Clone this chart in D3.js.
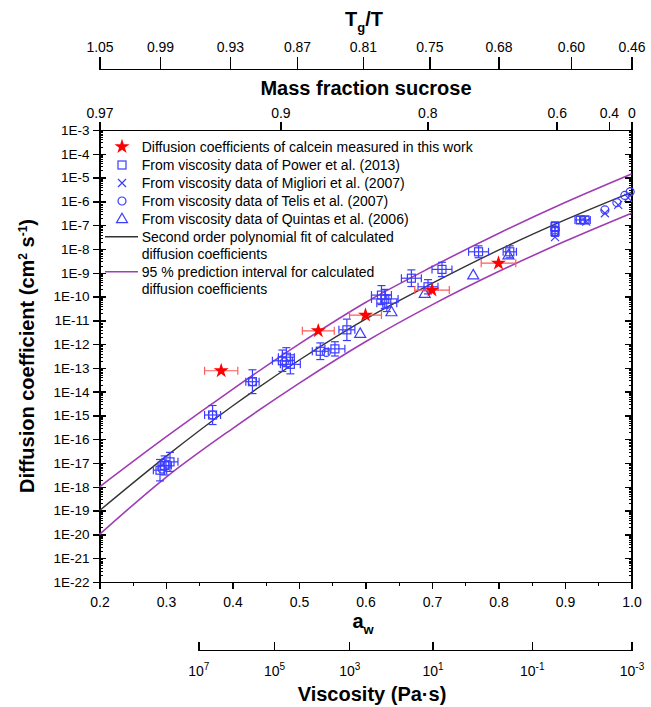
<!DOCTYPE html>
<html>
<head>
<meta charset="utf-8">
<script src="https://cdn.jsdelivr.net/npm/d3@7"></script>
<style>
body { margin: 0; background: #fff; }
text { font-family: "Liberation Sans", Arial, sans-serif; fill: #000; }
.axis path, .axis line { stroke: #000; stroke-width: 1.4; shape-rendering: crispEdges; }
</style>
</head>
<body>
<script>
// ---- data (D values as log10, cm2/s) ----
// fit curve and 95 % prediction interval
var curveAw   = [0.2, 0.3, 0.4, 0.5, 0.6, 0.7, 0.8, 0.9, 1.0];
var fitLogD   = [-19.0, -16.72, -14.6, -12.68, -10.95, -9.45, -8.05, -6.78, -5.62];
var upperLogD = [-18.0, -15.9, -13.9, -12.0, -10.25, -8.75, -7.35, -6.05, -4.85];
var lowerLogD = [-20.0, -17.6, -15.55, -13.65, -11.9, -10.35, -8.95, -7.68, -6.5];

// calcein, measured in this work
var starAw   = [0.383, 0.529, 0.600, 0.700, 0.800];
var starLogD = [-13.12, -11.44, -10.78, -9.73, -8.60];
var starXErr = [0.025, 0.024, 0.024, 0.026, 0.026];

// Power et al. (2013)
var powerAw   = [0.291, 0.298, 0.306, 0.370, 0.430, 0.475, 0.481, 0.487, 0.532, 0.554, 0.572, 0.624, 0.629, 0.632, 0.669, 0.694, 0.715, 0.770, 0.817, 0.885, 0.885, 0.923, 0.930];
var powerLogD = [-17.3, -17.1, -16.95, -14.98, -13.58, -12.7, -12.55, -12.85, -12.3, -12.2, -11.4, -9.94, -10.1, -10.28, -9.23, -9.59, -8.86, -8.12, -8.12, -7.06, -7.27, -6.78, -6.78];
var powerXErr = [0.01, 0.01, 0.012, 0.012, 0.01, 0.015, 0.012, 0.015, 0.012, 0.015, 0.012, 0.015, 0.02, 0.015, 0.015, 0.015, 0.015, 0.015, 0.01, 0.005, 0.005, 0.008, 0.008];
var powerYErr = [0.45, 0.4, 0.4, 0.4, 0.5, 0.45, 0.4, 0.4, 0.35, 0.3, 0.45, 0.4, 0.4, 0.35, 0.35, 0.3, 0.3, 0.25, 0.25, 0.2, 0.2, 0.15, 0.15];

// Migliori et al. (2007)
var miglioriAw   = [0.885, 0.932, 0.960, 0.980, 0.995];
var miglioriLogD = [-7.5, -6.85, -6.5, -6.15, -5.85];

// Telis et al. (2007)
var telisAw   = [0.294, 0.302, 0.370, 0.430, 0.478, 0.541, 0.885, 0.960, 0.978, 0.990, 0.998];
var telisLogD = [-17.25, -17.05, -14.98, -13.58, -12.75, -12.35, -7.2, -6.36, -6.05, -5.75, -5.6];

// Quintas et al. (2006)
var quintasAw   = [0.592, 0.639, 0.689, 0.762, 0.815];
var quintasLogD = [-11.55, -10.64, -9.87, -9.09, -8.25];

// axes
var awTicks  = [0.2, 0.3, 0.4, 0.5, 0.6, 0.7, 0.8, 0.9, 1.0];
var awLabels = ["0.2", "0.3", "0.4", "0.5", "0.6", "0.7", "0.8", "0.9", "1.0"];
var awMinor  = [0.25, 0.35, 0.45, 0.55, 0.65, 0.75, 0.85, 0.95];
var yExp = [-3, -4, -5, -6, -7, -8, -9, -10, -11, -12, -13, -14, -15, -16, -17, -18, -19, -20, -21, -22];
var massLabels = ["0.97", "0.9", "0.8", "0.6", "0.4", "0"];
var massAw     = [0.2, 0.472, 0.693, 0.8875, 0.966, 1.0];
var tgLabels = ["1.05", "0.99", "0.93", "0.87", "0.81", "0.75", "0.68", "0.60", "0.46"];
var tgAw     = [0.2, 0.291, 0.396, 0.497, 0.596, 0.696, 0.8, 0.909, 1.0];
var viscExp = ["7", "5", "3", "1", "-1", "-3"];
var viscAw  = [0.3486, 0.4624, 0.5756, 0.7009, 0.85, 1.0];

var width = 651;
var height = 707;

var plot = { left: 99.5, right: 631.5, top: 130, bottom: 582 };

var blue = "#3c3cff";
var red = "#ff0000";
var purple = "#a03cb4";

var svg = d3.select("body")
    .append("svg")
    .attr("width", width)
    .attr("height", height);

var x = d3.scaleLinear().domain([0.2, 1.0]).range([plot.left, plot.right]);
var y = d3.scaleLog().domain([1e-22, 1e-3]).range([plot.bottom, plot.top]);

function yl(v) { return y(Math.pow(10, v)); }

// major and minor log ticks
var yMajor = yExp.map(function(e) { return Math.pow(10, e); });
var yMinor = [];
yExp.forEach(function(e) {
    if (e === -3) return;
    for (var k = 2; k < 10; k++) yMinor.push(k * Math.pow(10, e));
});

// ---- bottom a_w axis ----
svg.append("g")
    .attr("class", "axis")
    .attr("transform", "translate(0," + plot.bottom + ")")
    .call(d3.axisBottom(x).tickValues(awTicks).tickSize(7).tickPadding(8)
        .tickFormat(function(d, i) { return awLabels[i]; }))
    .call(function(g) { g.selectAll("text").style("font-size", "14px"); });
svg.append("g")
    .attr("class", "axis")
    .attr("transform", "translate(0," + plot.bottom + ")")
    .call(d3.axisBottom(x).tickValues(awMinor).tickSize(4).tickFormat(""))
    .call(function(g) { g.select(".domain").remove(); });

// ---- left y axis ----
svg.append("g")
    .attr("class", "axis")
    .attr("transform", "translate(" + plot.left + ",0)")
    .call(d3.axisLeft(y).tickValues(yMajor).tickSize(7).tickPadding(3)
        .tickFormat(function(d) { return "1E" + Math.round(Math.log10(d)); }))
    .call(function(g) { g.selectAll("text").style("font-size", "13.5px"); });
svg.append("g")
    .attr("class", "axis")
    .attr("transform", "translate(" + plot.left + ",0)")
    .call(d3.axisRight(y).tickValues(yMajor).tickSize(6).tickFormat(""))
    .call(function(g) { g.select(".domain").remove(); });
svg.append("g")
    .attr("class", "axis")
    .attr("transform", "translate(" + plot.left + ",0)")
    .call(d3.axisRight(y).tickValues(yMinor).tickSize(3).tickFormat(""))
    .call(function(g) { g.select(".domain").remove(); g.selectAll("line").style("stroke-width", 1); });

// ---- right y axis (inward ticks only) ----
svg.append("g")
    .attr("class", "axis")
    .attr("transform", "translate(" + plot.right + ",0)")
    .call(d3.axisLeft(y).tickValues(yMajor).tickSize(7).tickFormat(""));
svg.append("g")
    .attr("class", "axis")
    .attr("transform", "translate(" + plot.right + ",0)")
    .call(d3.axisLeft(y).tickValues(yMinor).tickSize(3).tickFormat(""))
    .call(function(g) { g.select(".domain").remove(); g.selectAll("line").style("stroke-width", 1); });

// ---- top: mass fraction sucrose ----
svg.append("g")
    .attr("class", "axis")
    .attr("transform", "translate(0," + plot.top + ")")
    .call(d3.axisTop(x).tickValues(massAw).tickSize(8).tickPadding(4)
        .tickFormat(function(d, i) { return massLabels[i]; }))
    .call(function(g) { g.selectAll("text").style("font-size", "14px"); });

svg.append("text")
    .attr("x", 366).attr("y", 95)
    .attr("text-anchor", "middle")
    .style("font-size", "20px").style("font-weight", "bold")
    .text("Mass fraction sucrose");

// ---- top: Tg/T ----
var tgY = 69;
svg.append("g")
    .attr("class", "axis")
    .attr("transform", "translate(0," + tgY + ")")
    .call(d3.axisTop(x).tickValues(tgAw).tickSize(12).tickPadding(5)
        .tickFormat(function(d, i) { return tgLabels[i]; }))
    .call(function(g) { g.selectAll("text").style("font-size", "14px"); });

var tgTitle = svg.append("text")
    .attr("x", 364).attr("y", 26)
    .attr("text-anchor", "middle")
    .style("font-size", "20px").style("font-weight", "bold");
tgTitle.append("tspan").text("T");
tgTitle.append("tspan").attr("dy", 6).style("font-size", "13px").text("g");
tgTitle.append("tspan").attr("dy", -6).text("/T");

// ---- bottom: viscosity ----
var xv = d3.scaleLinear().domain([viscAw[0], 1.0]).range([x(viscAw[0]), x(1.0)]);
var viscAxis = svg.append("g")
    .attr("class", "axis")
    .attr("transform", "translate(0,650)")
    .call(d3.axisBottom(xv).tickValues(viscAw).tickSizeInner(-8).tickSizeOuter(-8)
        .tickFormat(""));
viscAxis.selectAll(".tick").append("text")
    .attr("y", 26)
    .attr("text-anchor", "middle")
    .style("font-size", "14px")
    .each(function(d, i) {
        var t = d3.select(this);
        t.append("tspan").text("10");
        t.append("tspan").attr("dy", -6).style("font-size", "10px").text(viscExp[i]);
    });

svg.append("text")
    .attr("x", 372).attr("y", 701)
    .attr("text-anchor", "middle")
    .style("font-size", "20px").style("font-weight", "bold")
    .text("Viscosity (Pa\u00b7s)");

var awTitle = svg.append("text")
    .attr("x", 363).attr("y", 628)
    .attr("text-anchor", "middle")
    .style("font-size", "20px").style("font-weight", "bold");
awTitle.append("tspan").text("a");
awTitle.append("tspan").attr("dy", 6).style("font-size", "13px").text("w");

// ---- y title ----
var yTitle = svg.append("text")
    .attr("transform", "translate(34,356) rotate(-90)")
    .attr("text-anchor", "middle")
    .style("font-size", "20px").style("font-weight", "bold");
yTitle.append("tspan").text("Diffusion coefficient (cm");
yTitle.append("tspan").attr("dy", -7).style("font-size", "12px").text("2");
yTitle.append("tspan").attr("dy", 7).text(" s");
yTitle.append("tspan").attr("dy", -7).style("font-size", "12px").text("-1");
yTitle.append("tspan").attr("dy", 7).text(")");

// ---- curves ----
var plotArea = svg.append("g");

function curveLine(vals) {
    return d3.line()
        .x(function(d, i) { return x(curveAw[i]); })
        .y(function(d) { return yl(d); })
        .curve(d3.curveMonotoneX)(vals);
}

plotArea.append("path").attr("d", curveLine(upperLogD))
    .attr("fill", "none").attr("stroke", purple).attr("stroke-width", 1.6);
plotArea.append("path").attr("d", curveLine(lowerLogD))
    .attr("fill", "none").attr("stroke", purple).attr("stroke-width", 1.6);
plotArea.append("path").attr("d", curveLine(fitLogD))
    .attr("fill", "none").attr("stroke", "#333").attr("stroke-width", 1.4);

// ---- error bars ----
function hErr(g, cx, cy, x0, x1, color) {
    g.append("line").attr("x1", x0).attr("x2", x1).attr("y1", cy).attr("y2", cy)
        .attr("stroke", color).attr("stroke-width", 1.2);
    g.append("line").attr("x1", x0).attr("x2", x0).attr("y1", cy - 4).attr("y2", cy + 4)
        .attr("stroke", color).attr("stroke-width", 1.2);
    g.append("line").attr("x1", x1).attr("x2", x1).attr("y1", cy - 4).attr("y2", cy + 4)
        .attr("stroke", color).attr("stroke-width", 1.2);
}
function vErr(g, cx, y0, y1, color) {
    g.append("line").attr("x1", cx).attr("x2", cx).attr("y1", y0).attr("y2", y1)
        .attr("stroke", color).attr("stroke-width", 1.2);
    g.append("line").attr("x1", cx - 4).attr("x2", cx + 4).attr("y1", y0).attr("y2", y0)
        .attr("stroke", color).attr("stroke-width", 1.2);
    g.append("line").attr("x1", cx - 4).attr("x2", cx + 4).attr("y1", y1).attr("y2", y1)
        .attr("stroke", color).attr("stroke-width", 1.2);
}

var errG = plotArea.append("g");
powerAw.forEach(function(a, i) {
    var cx = x(a), cy = yl(powerLogD[i]);
    hErr(errG, cx, cy, x(a - powerXErr[i]), x(a + powerXErr[i]), blue);
    vErr(errG, cx, yl(powerLogD[i] + powerYErr[i]), yl(powerLogD[i] - powerYErr[i]), blue);
});

// ---- markers ----
plotArea.selectAll(".power")
    .data(powerAw)
    .enter().append("rect")
    .attr("class", "power")
    .attr("x", function(d) { return x(d) - 4; })
    .attr("y", function(d, i) { return yl(powerLogD[i]) - 4; })
    .attr("width", 8).attr("height", 8)
    .attr("fill", "none").attr("stroke", blue).attr("stroke-width", 1.2);

plotArea.selectAll(".telis")
    .data(telisAw)
    .enter().append("circle")
    .attr("class", "telis")
    .attr("cx", function(d) { return x(d); })
    .attr("cy", function(d, i) { return yl(telisLogD[i]); })
    .attr("r", 4)
    .attr("fill", "none").attr("stroke", blue).attr("stroke-width", 1.2);

var crossPath = "M-4,-4L4,4M-4,4L4,-4";
plotArea.selectAll(".migliori")
    .data(miglioriAw)
    .enter().append("path")
    .attr("class", "migliori")
    .attr("d", crossPath)
    .attr("transform", function(d, i) { return "translate(" + x(d) + "," + yl(miglioriLogD[i]) + ")"; })
    .attr("fill", "none").attr("stroke", blue).attr("stroke-width", 1.2);

var triPath = "M0,-5.5L5.5,4L-5.5,4Z";
plotArea.selectAll(".quintas")
    .data(quintasAw)
    .enter().append("path")
    .attr("class", "quintas")
    .attr("d", triPath)
    .attr("transform", function(d, i) { return "translate(" + x(d) + "," + yl(quintasLogD[i]) + ")"; })
    .attr("fill", "none").attr("stroke", blue).attr("stroke-width", 1.2);

// calcein stars with horizontal error bars
var starG = plotArea.append("g");
starAw.forEach(function(a, i) {
    hErr(starG, x(a), yl(starLogD[i]), x(a - starXErr[i]), x(a + starXErr[i]), "#ff5a5a");
});
var star = d3.symbol().type(d3.symbolStar).size(70);
starG.selectAll(".star")
    .data(starAw)
    .enter().append("path")
    .attr("class", "star")
    .attr("d", star)
    .attr("transform", function(d, i) { return "translate(" + x(d) + "," + yl(starLogD[i]) + ")"; })
    .attr("fill", red);

// ---- legend ----
var legend = svg.append("g").style("font-size", "14px");
var legRows = [
    { type: "star", y: 146.7, text: ["Diffusion coefficients of calcein measured in this work"] },
    { type: "square", y: 165, text: ["From viscosity data of Power et al. (2013)"] },
    { type: "cross", y: 183, text: ["From viscosity data of Migliori et al. (2007)"] },
    { type: "circle", y: 201, text: ["From viscosity data of Telis et al. (2007)"] },
    { type: "triangle", y: 218.7, text: ["From viscosity data of Quintas et al. (2006)"] },
    { type: "fit", y: 236.7, text: ["Second order polynomial fit of calculated", "diffusion coefficients"] },
    { type: "band", y: 271.7, text: ["95 % prediction interval for calculated", "diffusion coefficients"] }
];
legRows.forEach(function(r) {
    var g = legend.append("g").attr("transform", "translate(122," + r.y + ")");
    if (r.type === "star") g.append("path").attr("d", star).attr("fill", red);
    if (r.type === "square") g.append("rect").attr("x", -4).attr("y", -4).attr("width", 8).attr("height", 8)
        .attr("fill", "none").attr("stroke", blue).attr("stroke-width", 1.2);
    if (r.type === "cross") g.append("path").attr("d", crossPath).attr("fill", "none").attr("stroke", blue).attr("stroke-width", 1.2);
    if (r.type === "circle") g.append("circle").attr("r", 4).attr("fill", "none").attr("stroke", blue).attr("stroke-width", 1.2);
    if (r.type === "triangle") g.append("path").attr("d", triPath).attr("fill", "none").attr("stroke", blue).attr("stroke-width", 1.2);
    if (r.type === "fit") g.append("line").attr("x1", -17).attr("x2", 16).attr("stroke", "#333").attr("stroke-width", 1.4);
    if (r.type === "band") g.append("line").attr("x1", -17).attr("x2", 16).attr("stroke", purple).attr("stroke-width", 1.6);
    r.text.forEach(function(t, k) {
        g.append("text").attr("x", 19.7).attr("y", 5 + k * 17).text(t);
    });
});
</script>
</body>
</html>
